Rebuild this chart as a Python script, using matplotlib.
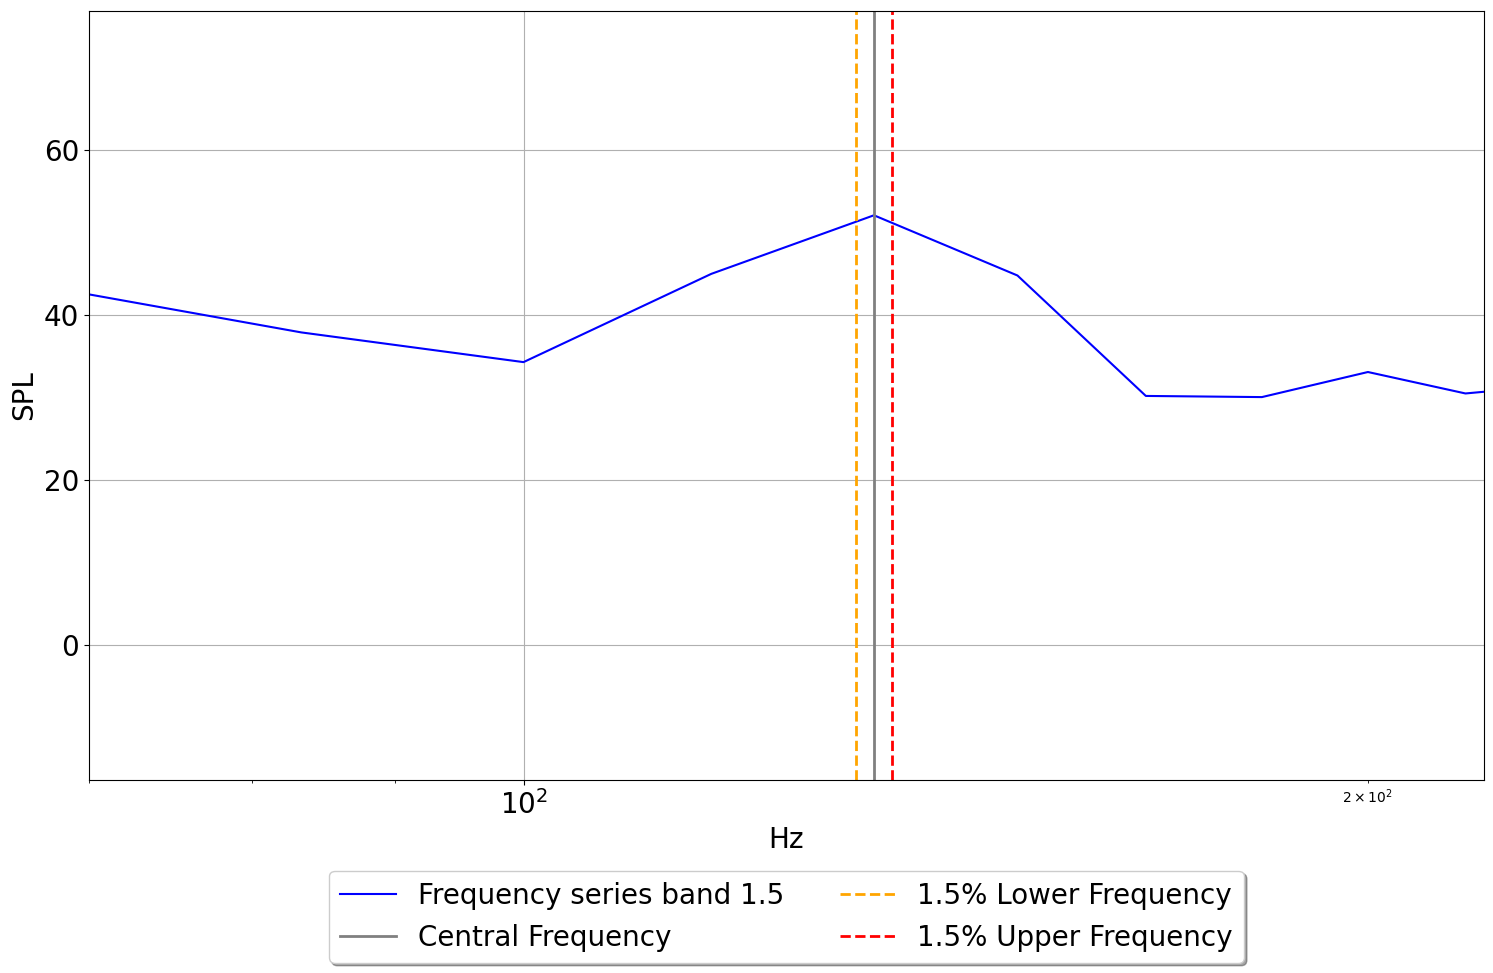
import matplotlib
matplotlib.use("Agg")
import matplotlib.pyplot as plt
import numpy as np

freqs = [66.67, 83.33, 100.0, 116.67, 133.33, 150.0, 166.67, 183.33, 200.0, 216.67, 233.33]
spl = [43.8, 37.9, 34.3, 45.0, 52.1, 44.8, 30.2, 30.06, 33.1, 30.5, 31.5]
central = 133.33
lower = 131.33
upper = 135.33
xlim = (70.0, 220.0)
ylim = (-16.4, 76.9)

fig, ax = plt.subplots(figsize=(14.93, 9.73), dpi=100)
ax.plot(freqs, spl, color="blue", label="Frequency series band 1.5")
ax.axvline(central, color="gray", linewidth=2, label="Central Frequency")
ax.axvline(lower, color="orange", linestyle="--", linewidth=2, label="1.5% Lower Frequency")
ax.axvline(upper, color="red", linestyle="--", linewidth=2, label="1.5% Upper Frequency")
ax.set_xscale("log")
ax.set_xlim(*xlim)
ax.set_ylim(*ylim)
ax.set_yticks([0, 20, 40, 60])
ax.grid(True)
ax.set_xlabel("Hz", fontsize=20)
ax.set_ylabel("SPL", fontsize=20)
ax.tick_params(axis="both", which="major", labelsize=20)
ax.legend(loc="upper center", bbox_to_anchor=(0.5, -0.0995), ncol=2, fontsize=20,
          fancybox=True, shadow=True)
fig.subplots_adjust(left=0.0596, right=0.994, top=0.989, bottom=0.198)
fig.savefig("out.png", dpi=100)
